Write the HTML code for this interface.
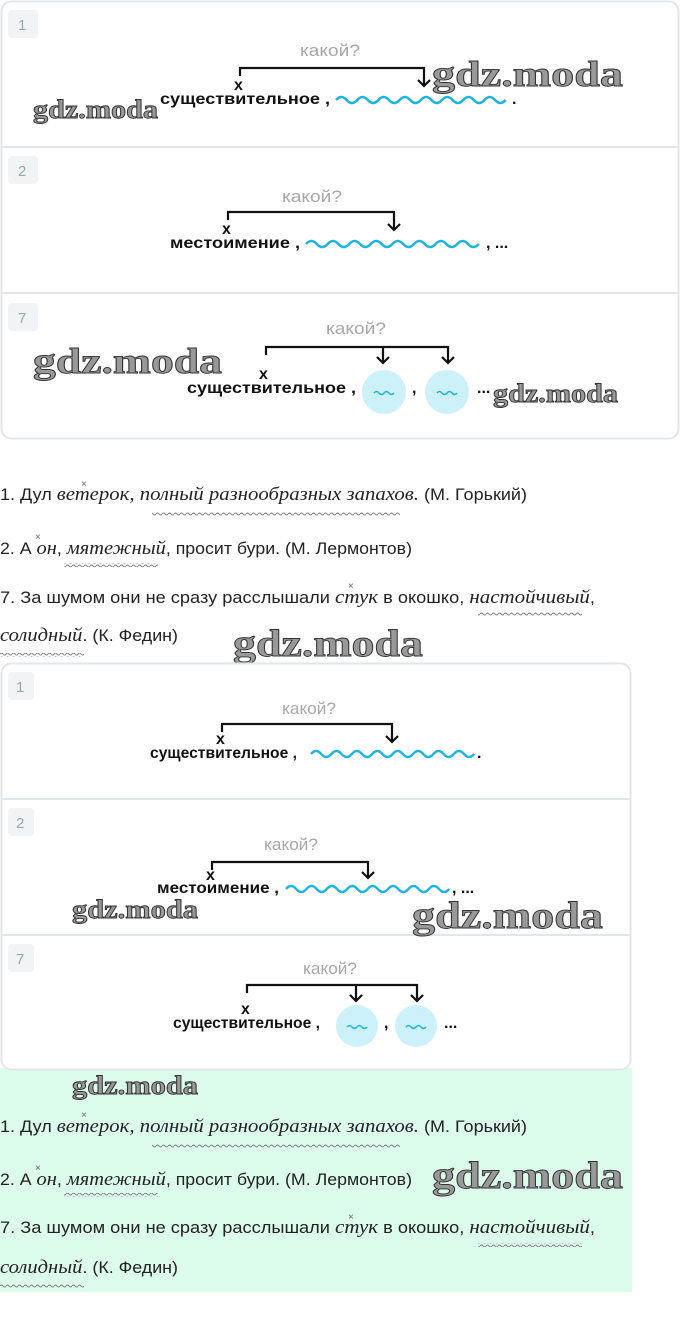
<!DOCTYPE html>
<html><head><meta charset="utf-8"><style>
body{margin:0;background:#fff;}
svg{display:block}
.b{font-family:"Liberation Sans",sans-serif;font-weight:bold;font-size:16px;fill:#111}
.q{font-family:"Liberation Sans",sans-serif;font-size:17px;fill:#a8a8a8}
.n{font-family:"Liberation Sans",sans-serif;font-size:15px;fill:#9aa}
.t{font-family:"Liberation Sans",sans-serif;font-size:16.5px;fill:#222}
.i{font-family:"Liberation Serif",serif;font-style:italic;font-size:19px;fill:#222}
.w{font-family:"Liberation Serif",serif;font-weight:bold;fill:#999;stroke:#333;stroke-width:.9}
.x{font-family:"Liberation Sans",sans-serif;font-size:10px;fill:#666}
.wv{fill:none;stroke:#1fb4e0;stroke-width:2.5}
.sw{fill:none;stroke:#1fb4e0;stroke-width:1.6}
.ln{fill:none;stroke:#111;stroke-width:2.2}
</style></head><body>
<svg width="680" height="1327" viewBox="0 0 680 1327" xmlns="http://www.w3.org/2000/svg">
<defs>
<pattern id="tl" x="0" y="0" width="6" height="4" patternUnits="userSpaceOnUse">
<path d="M0 2 Q1.5 0 3 2 T6 2" fill="none" stroke="#777" stroke-width=".9"/>
</pattern>
</defs>

<!-- Card 1 -->
<rect x="1.5" y="1.5" width="677" height="437" rx="10" fill="#fff" stroke="#e3e6e8" stroke-width="2"/>
<line x1="2" y1="147" x2="678" y2="147" stroke="#e3e6e8" stroke-width="2"/>
<line x1="2" y1="293" x2="678" y2="293" stroke="#e3e6e8" stroke-width="2"/>
<rect x="8" y="10" width="30" height="28" rx="4" fill="#f1f3f4"/><text class="n" x="18" y="30">1</text>
<rect x="8" y="156" width="30" height="28" rx="4" fill="#f1f3f4"/><text class="n" x="18" y="176">2</text>
<rect x="8" y="303" width="30" height="28" rx="4" fill="#f1f3f4"/><text class="n" x="18" y="323">7</text>

<text class="q" x="300" y="56" textLength="60" lengthAdjust="spacingAndGlyphs">какой?</text>
<path class="ln" d="M240 76 V68 H424 V86 M418 80 L424 86 L430 80"/>
<text class="b" x="234" y="90">х</text>
<text class="b" x="160" y="104" textLength="170" lengthAdjust="spacingAndGlyphs">существительное ,</text>
<path class="wv" d="M336 100 q5.3 -6 10.6 0 t10.6 0 t10.6 0 t10.6 0 t10.6 0 t10.6 0 t10.6 0 t10.6 0 t10.6 0 t10.6 0 t10.6 0 t10.6 0 t10.6 0 t10.6 0 t10.6 0 t10.6 0"/>
<text class="b" x="512" y="104">.</text>

<text class="q" x="282" y="202" textLength="60" lengthAdjust="spacingAndGlyphs">какой?</text>
<path class="ln" d="M228 220 V212 H394 V230 M388 224 L394 230 L400 224"/>
<text class="b" x="222" y="234">х</text>
<text class="b" x="170" y="248" textLength="130" lengthAdjust="spacingAndGlyphs">местоимение ,</text>
<path class="wv" d="M306 244 q5.4 -6 10.8 0 t10.8 0 t10.8 0 t10.8 0 t10.8 0 t10.8 0 t10.8 0 t10.8 0 t10.8 0 t10.8 0 t10.8 0 t10.8 0 t10.8 0 t10.8 0 t10.8 0 t10.8 0"/>
<text class="b" x="486" y="248">, ...</text>

<text class="q" x="326" y="334" textLength="60" lengthAdjust="spacingAndGlyphs">какой?</text>
<path class="ln" d="M266 355 V347 H448 V363 M442 357 L448 363 L454 357 M383 347 V363 M377 357 L383 363 L389 357"/>
<text class="b" x="259" y="379">х</text>
<text class="b" x="187" y="393" textLength="169" lengthAdjust="spacingAndGlyphs">существительное ,</text>
<circle cx="384" cy="392" r="22" fill="#cdf1fb"/>
<path class="sw" d="M374 393 q2.5 -3 5 0 t5 0 t5 0 t5 0"/>
<text class="b" x="412" y="393">,</text>
<circle cx="447" cy="392" r="22" fill="#cdf1fb"/>
<path class="sw" d="M437 393 q2.5 -3 5 0 t5 0 t5 0 t5 0"/>
<text class="b" x="477" y="393">...</text>

<text class="w" x="33" y="118" font-size="26" textLength="125" lengthAdjust="spacingAndGlyphs">gdz.moda</text>
<text class="w" x="432" y="86" font-size="36" textLength="191" lengthAdjust="spacingAndGlyphs">gdz.moda</text>
<text class="w" x="33" y="373" font-size="36" textLength="189" lengthAdjust="spacingAndGlyphs">gdz.moda</text>
<text class="w" x="493" y="402" font-size="26" textLength="125" lengthAdjust="spacingAndGlyphs">gdz.moda</text>

<!-- text 1 -->
<text x="0" y="500" textLength="527" lengthAdjust="spacingAndGlyphs"><tspan class="t">1. Дул </tspan><tspan class="i">ветерок, полный разнообразных запахов.</tspan><tspan class="t"> (М. Горький)</tspan></text>
<text class="x" x="81" y="487">×</text>
<rect x="152" y="512" width="248" height="4" fill="url(#tl)"/>
<text x="0" y="554" textLength="412" lengthAdjust="spacingAndGlyphs"><tspan class="t">2. А </tspan><tspan class="i">он</tspan><tspan class="t">, </tspan><tspan class="i">мятежный</tspan><tspan class="t">, просит бури. (М. Лермонтов)</tspan></text>
<text class="x" x="35" y="540">×</text>
<rect x="64" y="563" width="94" height="4" fill="url(#tl)"/>
<text x="0" y="603" textLength="595" lengthAdjust="spacingAndGlyphs"><tspan class="t">7. За шумом они не сразу расслышали </tspan><tspan class="i">стук</tspan><tspan class="t"> в окошко, </tspan><tspan class="i">настойчивый</tspan><tspan class="t">,</tspan></text>
<text class="x" x="348" y="589">×</text>
<rect x="478" y="612" width="104" height="4" fill="url(#tl)"/>
<text x="0" y="641" textLength="178" lengthAdjust="spacingAndGlyphs"><tspan class="i">солидный</tspan><tspan class="t">. (К. Федин)</tspan></text>
<rect x="0" y="653" width="84" height="4" fill="url(#tl)"/>
<text class="w" x="233" y="656" font-size="38" textLength="190" lengthAdjust="spacingAndGlyphs">gdz.moda</text>

<!-- green area -->
<rect x="0" y="1068" width="632" height="224" fill="#dcfcec"/>

<!-- Card 2 -->
<rect x="1.5" y="663.5" width="629" height="406" rx="10" fill="#fff" stroke="#e3e6e8" stroke-width="2"/>
<line x1="2" y1="799" x2="631" y2="799" stroke="#e3e6e8" stroke-width="2"/>
<line x1="2" y1="935" x2="631" y2="935" stroke="#e3e6e8" stroke-width="2"/>
<rect x="8" y="672" width="26" height="28" rx="4" fill="#f1f3f4"/><text class="n" x="16" y="692">1</text>
<rect x="8" y="808" width="26" height="28" rx="4" fill="#f1f3f4"/><text class="n" x="16" y="828">2</text>
<rect x="8" y="944" width="26" height="28" rx="4" fill="#f1f3f4"/><text class="n" x="16" y="964">7</text>

<text class="q" x="282" y="714" textLength="54" lengthAdjust="spacingAndGlyphs">какой?</text>
<path class="ln" d="M222 732 V724 H392 V742 M386 736 L392 742 L398 736"/>
<text class="b" x="216" y="744">х</text>
<text class="b" x="150" y="758" textLength="147" lengthAdjust="spacingAndGlyphs">существительное ,</text>
<path class="wv" d="M311 754 q5.1 -6 10.2 0 t10.2 0 t10.2 0 t10.2 0 t10.2 0 t10.2 0 t10.2 0 t10.2 0 t10.2 0 t10.2 0 t10.2 0 t10.2 0 t10.2 0 t10.2 0 t10.2 0 t10.2 0"/>
<text class="b" x="477" y="758">.</text>

<text class="q" x="264" y="850" textLength="54" lengthAdjust="spacingAndGlyphs">какой?</text>
<path class="ln" d="M212 870 V862 H368 V878 M362 872 L368 878 L374 872"/>
<text class="b" x="206" y="880">х</text>
<text class="b" x="157" y="893" textLength="122" lengthAdjust="spacingAndGlyphs">местоимение ,</text>
<path class="wv" d="M286 889 q5.1 -6 10.2 0 t10.2 0 t10.2 0 t10.2 0 t10.2 0 t10.2 0 t10.2 0 t10.2 0 t10.2 0 t10.2 0 t10.2 0 t10.2 0 t10.2 0 t10.2 0 t10.2 0 t10.2 0"/>
<text class="b" x="452" y="893">, ...</text>

<text class="q" x="303" y="974" textLength="54" lengthAdjust="spacingAndGlyphs">какой?</text>
<path class="ln" d="M247 993 V985 H417 V1001 M411 995 L417 1001 L423 995 M356 985 V1001 M350 995 L356 1001 L362 995"/>
<text class="b" x="241" y="1014">х</text>
<text class="b" x="173" y="1028" textLength="147" lengthAdjust="spacingAndGlyphs">существительное ,</text>
<circle cx="357" cy="1026" r="21" fill="#cdf1fb"/>
<path class="sw" d="M347 1027 q2.5 -3 5 0 t5 0 t5 0 t5 0"/>
<text class="b" x="384" y="1028">,</text>
<circle cx="416" cy="1026" r="21" fill="#cdf1fb"/>
<path class="sw" d="M406 1027 q2.5 -3 5 0 t5 0 t5 0 t5 0"/>
<text class="b" x="444" y="1028">...</text>

<text class="w" x="72" y="918" font-size="26" textLength="126" lengthAdjust="spacingAndGlyphs">gdz.moda</text>
<text class="w" x="412" y="928" font-size="38" textLength="191" lengthAdjust="spacingAndGlyphs">gdz.moda</text>
<text class="w" x="72" y="1094" font-size="26" textLength="126" lengthAdjust="spacingAndGlyphs">gdz.moda</text>

<text x="0" y="1132" textLength="527" lengthAdjust="spacingAndGlyphs"><tspan class="t">1. Дул </tspan><tspan class="i">ветерок, полный разнообразных запахов.</tspan><tspan class="t"> (М. Горький)</tspan></text>
<text class="x" x="81" y="1118">×</text>
<rect x="152" y="1144" width="248" height="4" fill="url(#tl)"/>
<text x="0" y="1185" textLength="412" lengthAdjust="spacingAndGlyphs"><tspan class="t">2. А </tspan><tspan class="i">он</tspan><tspan class="t">, </tspan><tspan class="i">мятежный</tspan><tspan class="t">, просит бури. (М. Лермонтов)</tspan></text>
<text class="x" x="35" y="1171">×</text>
<rect x="64" y="1193" width="94" height="4" fill="url(#tl)"/>
<text class="w" x="432" y="1188" font-size="38" textLength="191" lengthAdjust="spacingAndGlyphs">gdz.moda</text>
<text x="0" y="1233" textLength="595" lengthAdjust="spacingAndGlyphs"><tspan class="t">7. За шумом они не сразу расслышали </tspan><tspan class="i">стук</tspan><tspan class="t"> в окошко, </tspan><tspan class="i">настойчивый</tspan><tspan class="t">,</tspan></text>
<text class="x" x="348" y="1220">×</text>
<rect x="478" y="1243" width="104" height="4" fill="url(#tl)"/>
<text x="0" y="1273" textLength="178" lengthAdjust="spacingAndGlyphs"><tspan class="i">солидный</tspan><tspan class="t">. (К. Федин)</tspan></text>
<rect x="0" y="1284" width="84" height="4" fill="url(#tl)"/>
</svg>
</body></html>
